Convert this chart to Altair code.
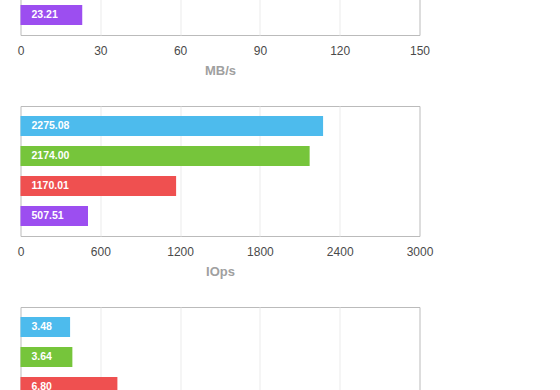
import altair as alt
import pandas as pd

# Series (one colour each); the legend is outside the visible region
series = ["s1", "s2", "s3", "s4"]
colors = ["#4dbbed", "#76c53b", "#ef5050", "#9c4ef0"]

# Top panel (MB/s): only the last bar is visible
mbs_series = ["s4"]
mbs_values = [23.21]
mbs_ticks = [0, 30, 60, 90, 120, 150]

# Middle panel (IOps)
iops_series = ["s1", "s2", "s3", "s4"]
iops_values = [2275.08, 2174.00, 1170.01, 507.51]
iops_ticks = [0, 600, 1200, 1800, 2400, 3000]

# Bottom panel: only the first three bars are visible
lat_series = ["s1", "s2", "s3"]
lat_values = [3.48, 3.64, 6.80]
lat_ticks = [0, 5.6, 11.2, 16.8, 22.4, 28]

FONT = "Liberation Sans"


def panel(names, values, ticks, title, fmt):
    df = pd.DataFrame({"series": names, "value": values})
    lo, hi = ticks[0], ticks[-1]
    y = alt.Y(
        "series:N",
        scale=alt.Scale(domain=series, paddingInner=1 / 3, paddingOuter=1 / 3),
        axis=None,
    )
    x = alt.X(
        "value:Q",
        scale=alt.Scale(domain=[lo, hi], nice=False),
        axis=alt.Axis(
            values=ticks,
            title=title,
            format=fmt,
            labelFlush=False,
            gridOpacity={
                "condition": {
                    "test": f"datum.value <= {lo} || datum.value >= {hi}",
                    "value": 0,
                },
                "value": 1,
            },
        ),
    )
    bars = alt.Chart(df).mark_bar().encode(
        x=x,
        y=y,
        color=alt.Color(
            "series:N", scale=alt.Scale(domain=series, range=colors), legend=None
        ),
    )
    labels = alt.Chart(df).mark_text(
        align="left", baseline="middle", dx=11, color="white",
        fontWeight="bold", fontSize=10.5, font=FONT,
    ).encode(
        x=alt.datum(0),
        y=y,
        text=alt.Text("value:Q", format=".2f"),
    )
    return alt.layer(bars, labels).properties(width=399, height=130)


p1 = panel(mbs_series, mbs_values, mbs_ticks, "MB/s", "d")
p2 = panel(iops_series, iops_values, iops_ticks, "IOps", "d")
p3 = panel(lat_series, lat_values, lat_ticks, "ms", "~f")

chart = (
    alt.vconcat(p1, p2, p3, spacing=71, bounds="flush")
    .properties(padding={"left": 16.5, "top": -96, "right": 10, "bottom": -89})
    .configure_view(stroke="#bbbbbb", strokeWidth=1)
    .configure_axis(
        grid=True,
        gridColor="#ebebeb",
        domain=False,
        ticks=False,
        tickSize=0,
        labelFont=FONT,
        labelFontSize=12,
        labelColor="#4a4a4a",
        labelPadding=10,
        titleFont=FONT,
        titleFontSize=13,
        titleFontWeight="bold",
        titleColor="#a0a0a0",
        titlePadding=8,
    )
)

chart.save("out.html", embed_options={"renderer": "svg", "actions": False})
